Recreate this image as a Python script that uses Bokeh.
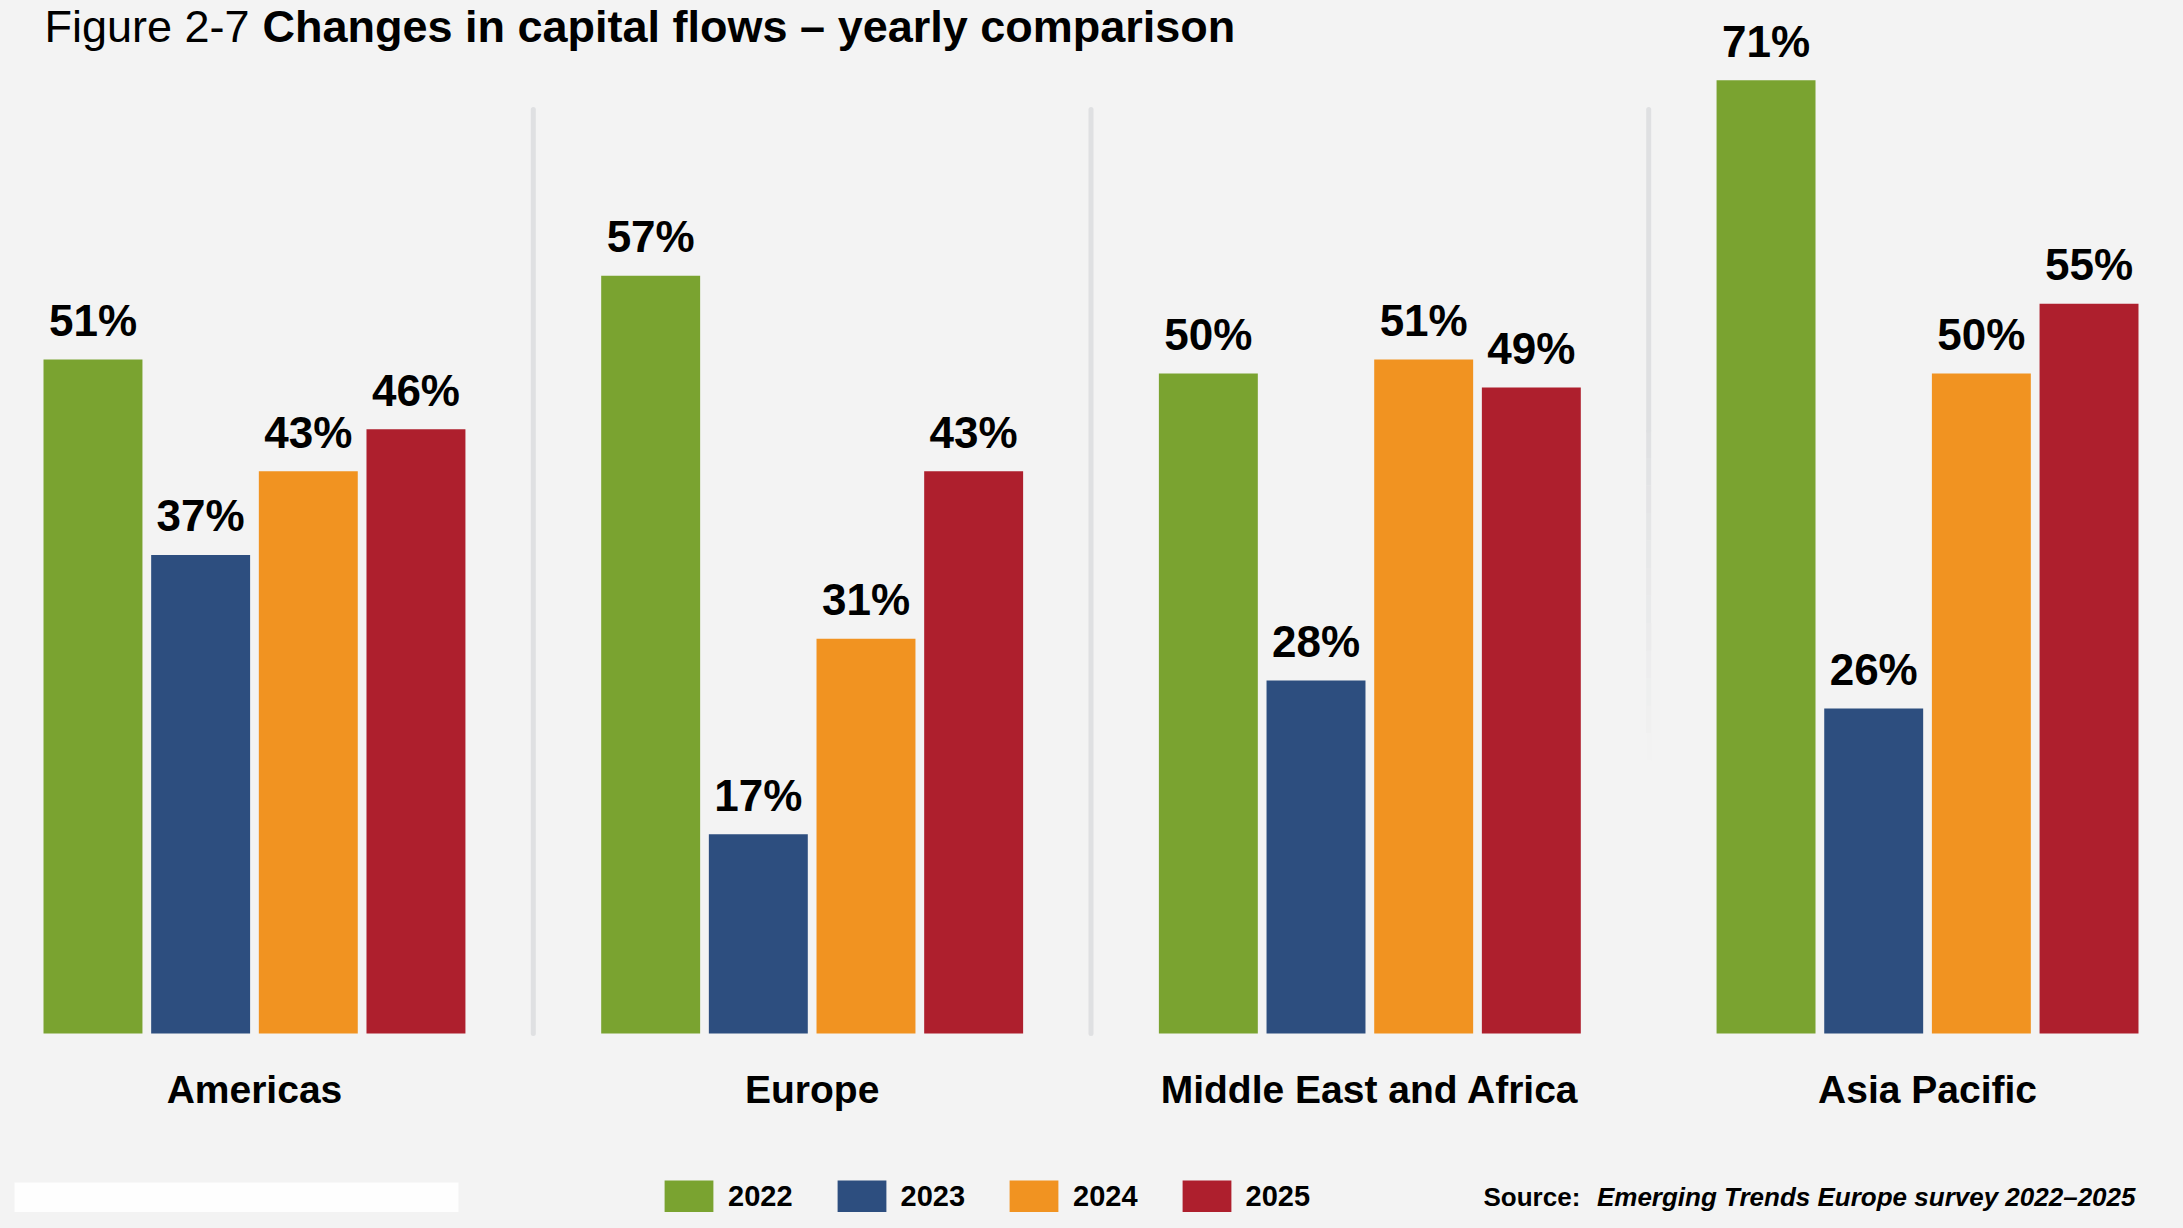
from bokeh.plotting import figure
from bokeh.models import (ColumnDataSource, FactorRange, Range1d, Label, Legend,
                          LegendItem, BoxAnnotation)
from bokeh.core.properties import value
from bokeh.embed import file_html
from bokeh.resources import INLINE

# ---------------- data ----------------
regions = ["Americas", "Europe", "Middle East and Africa", "Asia Pacific"]
years = ["2022", "2023", "2024", "2025"]
v2022 = [51, 57, 50, 71]
v2023 = [37, 17, 28, 26]
v2024 = [43, 31, 51, 50]
v2025 = [46, 43, 49, 55]
colors = ["#7AA330", "#2D4E7F", "#F19321", "#AE1F2D"]

title_lead = "Figure 2-7"
title_main = "Changes in capital flows \u2013 yearly comparison"
source_lead = "Source:"
source_main = "Emerging Trends Europe survey 2022\u20132025"

# ---------------- layout constants ----------------
W, H = 2167, 1212
LEFT = 14                 # left border before the plot frame
BG = "#F3F3F3"
FONT_NAME = "Liberation Sans"
FONT = value(FONT_NAME)
ZERO_PX = 1071.0          # pixel row (from top) of value 0
PX = 13.96                # pixels per percentage point
Y_END = ZERO_PX / PX
Y_START = -(H - ZERO_PX) / PX
BASE = (ZERO_PX - 1033) / PX   # visible baseline of the bars
GP = 1.18                 # group padding (in bar-pitch units)


def v_at(px_from_top):
    return (ZERO_PX - px_from_top) / PX


series = [v2022, v2023, v2024, v2025]
xs, tops, cols, yrs, labs = [], [], [], [], []
for i, r in enumerate(regions):
    for j, yv in enumerate(years):
        xs.append((r, yv))
        tops.append(series[j][i])
        cols.append(colors[j])
        yrs.append(yv)
        labs.append(f"{series[j][i]}%")
src = ColumnDataSource(dict(x=xs, top=tops, color=cols, year=yrs, lab=labs))

x_range = FactorRange(*xs, factor_padding=0, group_padding=GP,
                      range_padding=0.02343)
p = figure(width=W, height=H, x_range=x_range, y_range=Range1d(Y_START, Y_END),
           output_backend="svg", toolbar_location=None,
           x_axis_location=None, y_axis_location=None,
           min_border=0, min_border_left=LEFT, min_border_right=0,
           min_border_top=0, min_border_bottom=0,
           background_fill_color=BG, border_fill_color=BG,
           outline_line_color=None)
p.grid.visible = False

# white block bottom-left
p.add_layout(BoxAnnotation(left=-LEFT - 2, right=458 - LEFT, bottom=-20, top=H - 1182,
                           left_units="screen", right_units="screen",
                           bottom_units="screen", top_units="screen",
                           fill_color="#FEFEFE", fill_alpha=1.0,
                           line_color=None, level="underlay"))

# separators between groups
sep_x = [4 * (i + 1) + GP * i + GP / 2 for i in range(3)]
SEP_TOP = v_at(109)
p.segment(x0=sep_x[:2], x1=sep_x[:2], y0=[SEP_TOP] * 2, y1=[BASE] * 2,
          line_color="#DFE0E2", line_width=5, line_cap="round")
# third separator fades out
fade_start, fade_end = 430, 760
p.segment(x0=[sep_x[2]], x1=[sep_x[2]], y0=[SEP_TOP], y1=[v_at(fade_start)],
          line_color="#DFE0E2", line_width=5, line_cap="round")
n = 12
seg_y0, seg_y1, seg_a = [], [], []
for k in range(n):
    a = fade_start + (fade_end - fade_start) * k / n
    b = fade_start + (fade_end - fade_start) * (k + 1) / n
    seg_y0.append(v_at(a))
    seg_y1.append(v_at(b))
    seg_a.append(1 - (k + 0.5) / n)
p.segment(x0=[sep_x[2]] * n, x1=[sep_x[2]] * n, y0=seg_y0, y1=seg_y1,
          line_color="#DFE0E2", line_width=5, line_alpha=seg_a, line_cap="butt")

# bars
bars = p.vbar(x="x", top="top", bottom=BASE, width=0.919, source=src,
              fill_color="color", line_color=None)

# value labels (y_offset puts the text centre above the bar top)
p.text(x="x", y="top", text="lab", source=src, text_align="center",
       text_baseline="alphabetic", y_offset=-39, text_font=FONT,
       text_font_style="bold", text_font_size="44px", text_color="#000000")

# region labels
p.text(x=regions, y=[BASE] * len(regions), text=regions, text_align="center",
       text_baseline="alphabetic", y_offset=56, text_font=FONT,
       text_font_style="bold", text_font_size="39px", text_color="#000000")

# legend (legend swatches are drawn with a 10% inset of the glyph box)
GLW, GLH = 61, 40
LEG_CENTER = 1196
items = [LegendItem(label=yv, renderers=[bars], index=j) for j, yv in enumerate(years)]
legend = Legend(items=items,
                location=(int(round(664 - 0.1 * GLW - LEFT)), int(H - (LEG_CENTER + GLH // 2))),
                orientation="horizontal",
                glyph_width=GLW, glyph_height=GLH, label_standoff=9, spacing=38,
                padding=0, margin=0, border_line_color=None,
                background_fill_alpha=0, label_text_font=FONT_NAME,
                label_text_font_style="bold", label_text_font_size="29px",
                label_text_color="#000000")
p.add_layout(legend)

# title
p.add_layout(Label(x=44 - LEFT, y=H - 26, x_units="screen", y_units="screen",
                   text=title_lead, text_font=FONT_NAME, text_font_size="45px",
                   text_baseline="alphabetic", text_color="#000000"))
p.add_layout(Label(x=262 - LEFT, y=H - 26, x_units="screen", y_units="screen",
                   text=title_main, text_font=FONT_NAME, text_font_size="45px",
                   text_font_style="bold", text_baseline="alphabetic",
                   text_color="#000000"))

# source
p.add_layout(Label(x=1483 - LEFT, y=H - 1196, x_units="screen", y_units="screen",
                   text=source_lead, text_font=FONT_NAME, text_font_size="26px",
                   text_font_style="bold", text_baseline="alphabetic",
                   text_color="#000000"))
p.add_layout(Label(x=2135 - LEFT, y=H - 1196, x_units="screen", y_units="screen",
                   text=source_main, text_font=FONT_NAME, text_font_size="26px",
                   text_font_style="bold italic", text_align="right",
                   text_baseline="alphabetic", text_color="#000000"))

html = file_html(p, INLINE)
html = html.replace("<head>", "<head><style>html, body { background: #F3F3F3; }</style>", 1)
open("out.html", "w").write(html)
